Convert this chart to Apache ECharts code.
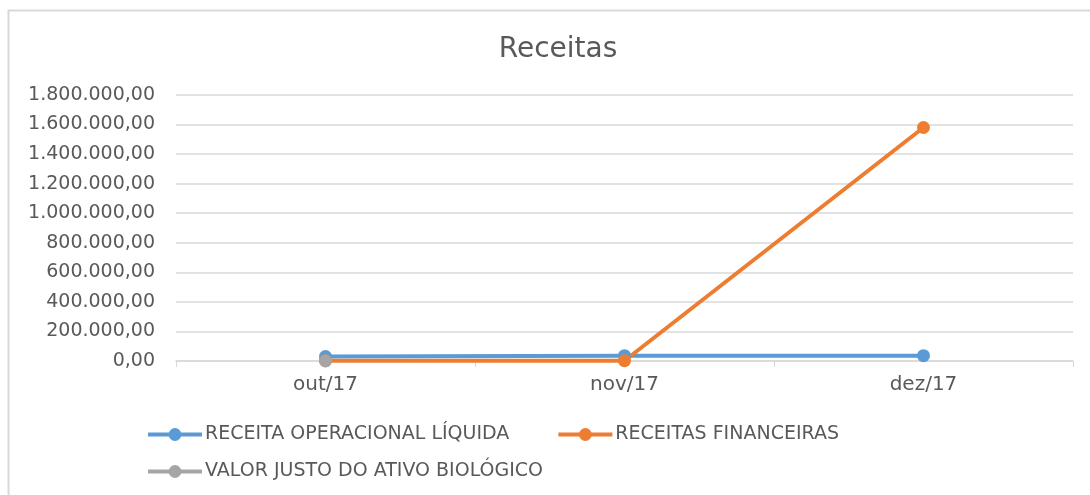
<!DOCTYPE html>
<html><head><meta charset="utf-8">
<script src="https://cdn.jsdelivr.net/npm/echarts@6/dist/echarts.min.js"></script>
<style>html,body{margin:0;padding:0;background:#fff}#c{width:1090px;height:495px}</style>
</head><body><div id="c"></div>
<script>
const categories = ['out/17', 'nov/17', 'dez/17'];
const seriesNames = ['RECEITA OPERACIONAL LÍQUIDA', 'RECEITAS FINANCEIRAS', 'VALOR JUSTO DO ATIVO BIOLÓGICO'];
const receitaOperacional = [30000, 36000, 36000];
const receitasFinanceiras = [2000, 2000, 1580000];
const valorJusto = [0, null, null];
const colors = ['#5b9bd5', '#ed7d31', '#a5a5a5'];

function fmt(v) {
  const s = Math.round(v).toString().replace(/\B(?=(\d{3})+(?!\d))/g, '.');
  return s + ',00';
}
const font = 'DejaVu Sans';
const txt = '#595959';
const chart = echarts.init(document.getElementById('c'));
const mk = (name, data, color) => ({
  name, type: 'line', data, connectNulls: false,
  symbol: 'circle', symbolSize: 13,
  lineStyle: { width: 4, color }, itemStyle: { color },
  animation: false
});
const legendBase = {
  left: 141, itemWidth: 54, itemHeight: 16, itemGap: 47,
  lineStyle: { width: 4 },
  textStyle: { fontFamily: font, fontSize: 19, color: txt, padding: [0, 0, 0, -2] }
};
chart.setOption({
  animation: false,
  title: { text: 'Receitas', left: 553, textAlign: 'center', top: 31,
    textStyle: { fontFamily: font, fontSize: 28, fontWeight: 'normal', color: txt } },
  graphic: [{ type: 'rect', shape: { x: 8.5, y: 10.5, width: 1100, height: 500 },
    style: { fill: 'none', stroke: '#d9d9d9', lineWidth: 2 }, silent: true }],
  legend: [
    Object.assign({}, legendBase, { data: [seriesNames[0], seriesNames[1]], top: 420 }),
    Object.assign({}, legendBase, { data: [seriesNames[2]], top: 457 })
  ],
  grid: { left: 176, right: 17, top: 95, bottom: 134 },
  xAxis: {
    type: 'category', data: categories, boundaryGap: true,
    axisLine: { lineStyle: { color: '#d9d9d9', width: 1.5 } },
    axisTick: { show: true, length: 6, lineStyle: { color: '#d9d9d9' } },
    axisLabel: { fontFamily: font, fontSize: 20, color: txt, margin: 14 }
  },
  yAxis: {
    type: 'value', min: 0, max: 1800000, interval: 200000,
    axisLine: { show: false }, axisTick: { show: false },
    splitLine: { lineStyle: { color: '#d9d9d9', width: 1.5 } },
    axisLabel: { fontFamily: font, fontSize: 19, color: txt, margin: 21, formatter: fmt }
  },
  series: [
    mk(seriesNames[0], receitaOperacional, colors[0]),
    mk(seriesNames[1], receitasFinanceiras, colors[1]),
    mk(seriesNames[2], valorJusto, colors[2])
  ]
});
</script></body></html>
